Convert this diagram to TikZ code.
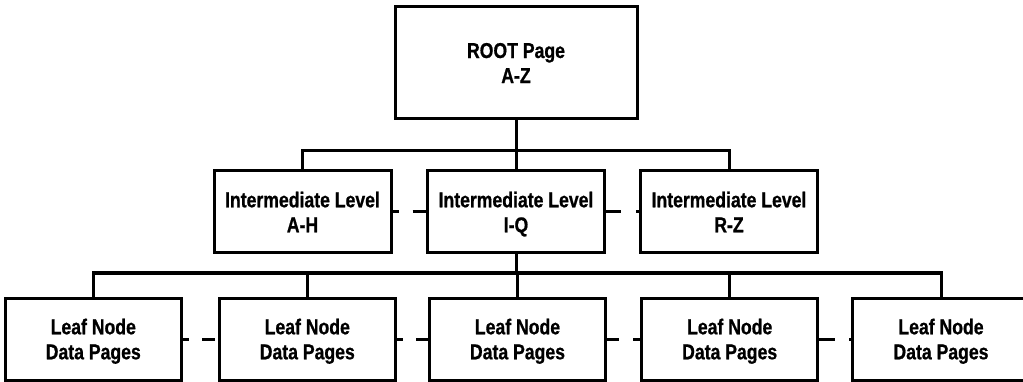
\documentclass[tikz,border=0pt]{standalone}
\usepackage{fontspec}
\setmainfont{Liberation Sans}[FakeStretch=0.82]
\newfontfamily\pagefont{Liberation Sans Bold}[FakeStretch=0.82,FakeBold=0.8]
\begin{document}
\begin{tikzpicture}[x=1pt,y=-1pt,
  page/.style={draw, line width=3pt, inner sep=0pt, align=center, text depth=0pt,
    font=\fontsize{21.5}{25}\selectfont\pagefont},
  rootpage/.style={page, minimum width=242pt, minimum height=112pt},
  midpage/.style={page, minimum width=177pt, minimum height=82pt},
  leafpage/.style={page, minimum width=176.5pt, minimum height=82pt},
  tree/.style={line width=3pt},
  sibling/.style={line width=3pt}]
\useasboundingbox (0,0) rectangle (1023,382);
\clip (0,0) rectangle (1023,382);

% root
\node[rootpage] (root) at (516,63) {ROOT Page\\A-Z};

% intermediate level
\node[midpage] (ia) at (302.5,212) {Intermediate Level\\A-H};
\node[midpage] (iq) at (516,212) {Intermediate Level\\I-Q};
\node[midpage] (ir) at (729,212) {Intermediate Level\\R-Z};

% leaf level
\node[leafpage] (l1) at (93.3,339) {Leaf Node\\Data Pages};
\node[leafpage] (l2) at (307.3,339) {Leaf Node\\Data Pages};
\node[leafpage] (l3) at (517.5,339) {Leaf Node\\Data Pages};
\node[leafpage] (l4) at (729.7,339) {Leaf Node\\Data Pages};
\node[leafpage] (l5) at (941,339) {Leaf Node\\Data Pages};

% root to intermediate pages
\coordinate (bus1) at (516,151);
\draw[tree] (root.south) -- (bus1);
\draw[tree] (ia.north) |- (bus1) -| (ir.north);
\draw[tree] (bus1) -- (iq.north);

% intermediate page to leaf pages
\coordinate (bus2) at (516,273);
\draw[tree] (iq.south) -- (bus2);
\draw[tree] (l1.north) |- (bus2) -| (l5.north);
\draw[tree] (l2.north) |- (bus2);
\draw[tree] (l4.north) |- (bus2);
\draw[tree] (bus2) -| (l3.north);

% sibling links
\draw[sibling, dash pattern=on 6pt off 14pt on 13pt off 20pt] (ia.east) -- (iq.west);
\draw[sibling, dash pattern=on 15pt off 15pt on 20pt] (iq.east) -- (ir.west);
\draw[sibling, dash pattern=on 5.6pt off 13.7pt on 12.3pt off 20pt] (l1.east) -- (l2.west);
\draw[sibling, dash pattern=on 6pt off 13pt on 20pt] (l2.east) -- (l3.west);
\draw[sibling, dash pattern=on 12pt off 14pt on 20pt] (l3.east) -- (l4.west);
\draw[sibling, dash pattern=on 15.6pt off 14pt on 20pt] (l4.east) -- (l5.west);
\end{tikzpicture}
\end{document}
